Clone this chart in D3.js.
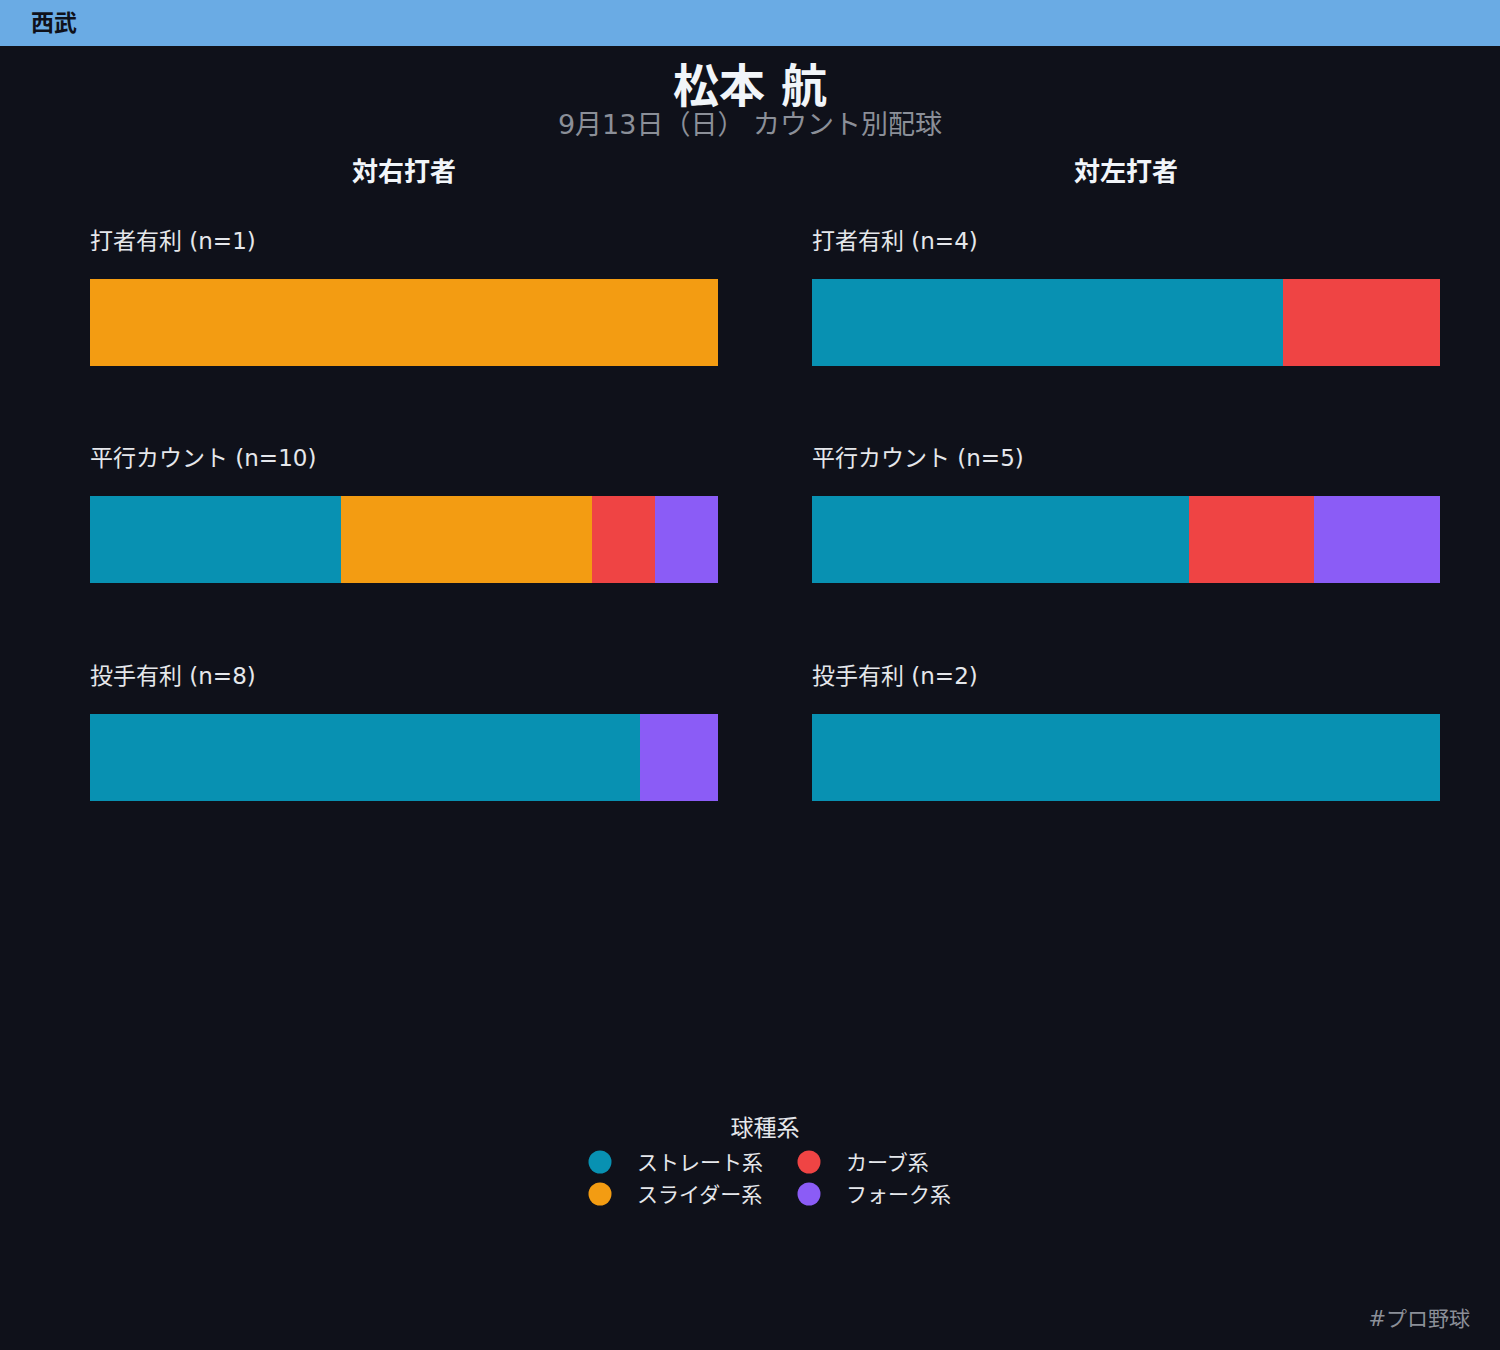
<!DOCTYPE html>
<html>
<head>
<meta charset="utf-8">
<script src="https://cdn.jsdelivr.net/npm/d3@7"></script>
<style>
  body { margin: 0; background: #0f111a; }
  svg { display: block; font-family: "DejaVu Sans", "Noto Sans CJK JP", sans-serif; }
</style>
</head>
<body>
<div id="chart"></div>
<script>
// pitch groups (legend order)
const pitchTypes = ["ストレート系", "スライダー系", "カーブ系", "フォーク系"];
const pitchColors = ["#0891b2", "#f39c12", "#ef4444", "#8b5cf6"];

const countSituations = ["打者有利", "平行カウント", "投手有利"];
const batterSides = ["対右打者", "対左打者"];

// pitch counts per situation: [straight, slider, curve, fork]
const vsRight = [
    [0, 1, 0, 0],
    [4, 4, 1, 1],
    [7, 0, 0, 1]
];
const vsLeft = [
    [3, 0, 1, 0],
    [3, 0, 1, 1],
    [2, 0, 0, 0]
];

const W = 1500, H = 1350;

const svg = d3.select("#chart").append("svg")
    .attr("width", W)
    .attr("height", H);

svg.append("rect").attr("width", W).attr("height", H).attr("fill", "#0f111a");

// Team header bar
svg.append("rect").attr("width", W).attr("height", 46).attr("fill", "#6aabe4");
svg.append("text")
    .attr("x", 31).attr("y", 31)
    .attr("font-size", 23).attr("font-weight", "bold")
    .attr("fill", "#0f111a")
    .text("西武");

// Titles
svg.append("text")
    .attr("x", W / 2).attr("y", 102)
    .attr("text-anchor", "middle")
    .attr("font-size", 46).attr("font-weight", "bold")
    .attr("fill", "#f1f5f9")
    .text("松本 航");

svg.append("text")
    .attr("x", W / 2).attr("y", 134)
    .attr("text-anchor", "middle")
    .attr("font-size", 27)
    .attr("fill", "#8b8f98")
    .text("9月13日（日） カウント別配球");

const panels = [
    { side: batterSides[0], data: vsRight, x0: 90, x1: 718 },
    { side: batterSides[1], data: vsLeft, x0: 812, x1: 1440 }
];

const rowTop = [279, 496, 714];
const barH = 87;

panels.forEach(p => {
    svg.append("text")
        .attr("x", (p.x0 + p.x1) / 2).attr("y", 181)
        .attr("text-anchor", "middle")
        .attr("font-size", 26).attr("font-weight", "bold")
        .attr("fill", "#f1f5f9")
        .text(p.side);

    p.data.forEach((counts, i) => {
        const n = d3.sum(counts);
        const x = d3.scaleLinear().domain([0, n]).range([p.x0, p.x1]);

        // cumulative stacking
        let acc = 0;
        const segs = counts.map((c, k) => {
            const s = { start: acc, end: acc + c, k };
            acc += c;
            return s;
        }).filter(s => s.end > s.start);

        svg.append("text")
            .attr("x", p.x0).attr("y", rowTop[i] - 30)
            .attr("font-size", 23)
            .attr("fill", "#e5e7eb")
            .text(`${countSituations[i]} (n=${n})`);

        svg.append("g")
            .selectAll("rect")
            .data(segs)
            .join("rect")
            .attr("x", d => x(d.start))
            .attr("width", d => x(d.end) - x(d.start))
            .attr("y", rowTop[i])
            .attr("height", barH)
            .attr("fill", d => pitchColors[d.k])
            .attr("shape-rendering", "crispEdges");
    });
});

// Legend
svg.append("text")
    .attr("x", 765).attr("y", 1136)
    .attr("text-anchor", "middle")
    .attr("font-size", 23)
    .attr("fill", "#e5e7eb")
    .text("球種系");

// column-major order: straight, slider | curve, fork
const legendPos = [[600, 1162], [600, 1194], [809, 1162], [809, 1194]];
const legend = svg.append("g");
pitchTypes.forEach((t, k) => {
    const [lx, ly] = legendPos[k];
    legend.append("circle")
        .attr("cx", lx).attr("cy", ly).attr("r", 11.5)
        .attr("fill", pitchColors[k]);
    legend.append("text")
        .attr("x", lx + 37).attr("y", ly + 8)
        .attr("font-size", 21)
        .attr("fill", "#e5e7eb")
        .text(t);
});

// Footer tag
svg.append("text")
    .attr("x", 1470).attr("y", 1326)
    .attr("text-anchor", "end")
    .attr("font-size", 21)
    .attr("fill", "#8b8f98")
    .text("#プロ野球");
</script>
</body>
</html>
